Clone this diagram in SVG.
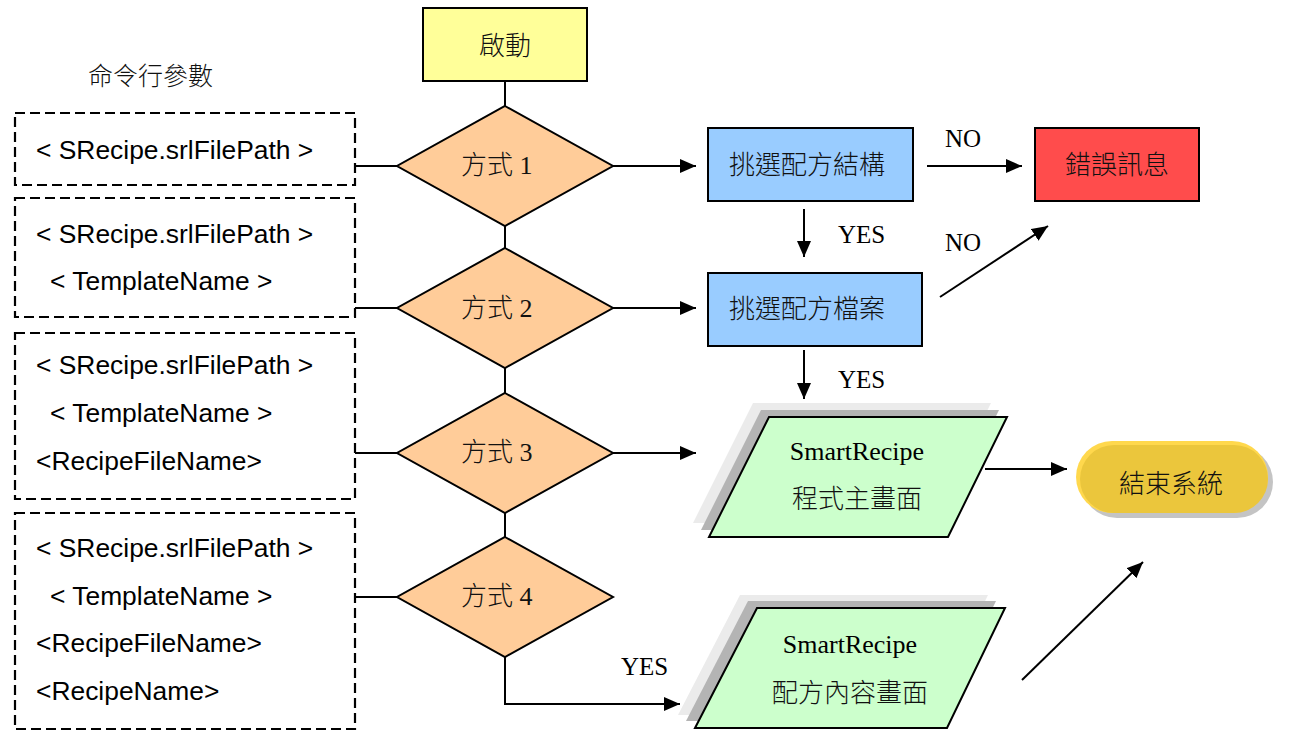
<svg xmlns="http://www.w3.org/2000/svg" width="1291" height="744" viewBox="0 0 1291 744">
<style>
.ln{stroke:#000;stroke-width:2;fill:none}
.dash{stroke:#000;stroke-width:2.2;fill:none;stroke-dasharray:10 5}
.box{stroke:#000;stroke-width:2}
.dia{fill:#FFCC99;stroke:#000;stroke-width:2}
.ar{font-family:"Liberation Sans",Arial,sans-serif;font-size:26.4px;fill:#000}
.cj{font-family:"Liberation Serif","Noto Sans CJK TC",serif;font-size:26px;font-weight:300;fill:#111}
.en{font-family:"Liberation Serif","Noto Sans CJK TC",serif;font-size:25px;fill:#000}
.sh1{fill:#EBEBEB}
.sh2{fill:#B4B4B4}
.para{fill:#CCFFCC;stroke:#000;stroke-width:2}
</style>
<defs>
<marker id="ah" markerUnits="userSpaceOnUse" markerWidth="17" markerHeight="14" refX="16" refY="7" orient="auto">
<path d="M0,0 L16,7 L0,14 z" fill="#000"/>
</marker>
</defs>
<rect width="1291" height="744" fill="#fff"/>

<text class="cj" x="88" y="85" style="font-family:'Noto Sans CJK TC',sans-serif;font-size:25px">命令行參數</text>

<g id="args1">
<rect class="dash" x="15" y="113" width="340" height="72"/>
<text class="ar" x="36" y="159">&lt; SRecipe.srlFilePath &gt;</text>
</g>
<g id="args2">
<rect class="dash" x="15" y="198" width="340" height="119"/>
<text class="ar" x="36" y="243">&lt; SRecipe.srlFilePath &gt;</text>
<text class="ar" x="50" y="290">&lt; TemplateName &gt;</text>
</g>
<g id="args3">
<rect class="dash" x="15" y="333" width="340" height="166"/>
<text class="ar" x="36" y="374">&lt; SRecipe.srlFilePath &gt;</text>
<text class="ar" x="50" y="422">&lt; TemplateName &gt;</text>
<text class="ar" x="36" y="470">&lt;RecipeFileName&gt;</text>
</g>
<g id="args4">
<rect class="dash" x="15" y="513" width="340" height="216"/>
<text class="ar" x="36" y="557">&lt; SRecipe.srlFilePath &gt;</text>
<text class="ar" x="50" y="605">&lt; TemplateName &gt;</text>
<text class="ar" x="36" y="652">&lt;RecipeFileName&gt;</text>
<text class="ar" x="36" y="700">&lt;RecipeName&gt;</text>
</g>

<g id="connectors">
<line class="ln" x1="505" y1="81" x2="505" y2="106"/>
<line class="ln" x1="505" y1="226" x2="505" y2="248"/>
<line class="ln" x1="505" y1="368" x2="505" y2="393"/>
<line class="ln" x1="505" y1="513" x2="505" y2="537"/>
<line class="ln" x1="355" y1="166" x2="397" y2="166"/>
<line class="ln" x1="355" y1="308" x2="397" y2="308"/>
<line class="ln" x1="355" y1="453" x2="397" y2="453"/>
<line class="ln" x1="355" y1="597" x2="397" y2="597"/>
<line class="ln" x1="613" y1="166" x2="696" y2="166" marker-end="url(#ah)"/>
<line class="ln" x1="613" y1="308" x2="696" y2="308" marker-end="url(#ah)"/>
<line class="ln" x1="613" y1="453" x2="696" y2="453" marker-end="url(#ah)"/>
<polyline class="ln" points="505,657 505,704 680,704" marker-end="url(#ah)"/>
<line class="ln" x1="927" y1="166" x2="1022" y2="166" marker-end="url(#ah)"/>
<line class="ln" x1="804" y1="209" x2="804" y2="257" marker-end="url(#ah)"/>
<line class="ln" x1="804" y1="350" x2="804" y2="399" marker-end="url(#ah)"/>
<line class="ln" x1="940" y1="297" x2="1048" y2="226" marker-end="url(#ah)"/>
<line class="ln" x1="985" y1="469" x2="1067" y2="469" marker-end="url(#ah)"/>
<line class="ln" x1="1022" y1="680" x2="1143" y2="562" marker-end="url(#ah)"/>
<text class="en" x="945" y="147">NO</text>
<text class="en" x="945" y="251">NO</text>
<text class="en" x="838" y="243">YES</text>
<text class="en" x="838" y="388">YES</text>
<text class="en" x="621" y="675">YES</text>
</g>

<g id="start">
<rect class="box" x="423" y="8" width="164" height="73" fill="#FFFF99"/>
<text class="cj" x="505" y="55" text-anchor="middle">啟動</text>
</g>

<g id="mode1">
<polygon class="dia" points="505,106 613,166 505,226 397,166"/>
<text class="cj" x="461" y="174">方式 1</text>
</g>
<g id="mode2">
<polygon class="dia" points="505,248 613,308 505,368 397,308"/>
<text class="cj" x="461" y="317">方式 2</text>
</g>
<g id="mode3">
<polygon class="dia" points="505,393 613,453 505,513 397,453"/>
<text class="cj" x="461" y="461">方式 3</text>
</g>
<g id="mode4">
<polygon class="dia" points="505,537 613,597 505,657 397,597"/>
<text class="cj" x="461" y="605">方式 4</text>
</g>

<g id="selectStruct">
<rect class="box" x="708" y="128" width="205" height="73" fill="#99CCFF"/>
<text class="cj" x="729" y="174">挑選配方結構</text>
</g>
<g id="selectFile">
<rect class="box" x="708" y="273" width="214" height="73" fill="#99CCFF"/>
<text class="cj" x="729" y="318">挑選配方檔案</text>
</g>
<g id="error">
<rect class="box" x="1035" y="128" width="164" height="73" fill="#FF4C4C"/>
<text class="cj" x="1117" y="174" text-anchor="middle">錯誤訊息</text>
</g>

<g id="mainScreen">
<polygon class="sh1" points="753,403 991,403 932,523 693,523"/>
<polygon class="sh2" points="761,410 999,410 940,530 701,530"/>
<polygon class="para" points="769,417 1007,417 948,537 709,537"/>
<text class="en" x="857" y="460" text-anchor="middle" style="font-size:26px">SmartRecipe</text>
<text class="cj" x="857" y="508" text-anchor="middle">程式主畫面</text>
</g>

<g id="recipeScreen">
<polygon class="sh1" points="740,595 988,595 930,715 678,715"/>
<polygon class="sh2" points="748,601 996,601 938,721 686,721"/>
<polygon class="para" points="757,608 1005,608 947,728 695,728"/>
<text class="en" x="850" y="653" text-anchor="middle" style="font-size:26px">SmartRecipe</text>
<text class="cj" x="850" y="702" text-anchor="middle">配方內容畫面</text>
</g>

<g id="end">
<rect x="1081" y="446" width="192" height="72" rx="36" fill="#C4C4C4"/>
<rect x="1076" y="441" width="192" height="72" rx="36" fill="#FFD84D"/>
<rect x="1080" y="445" width="188" height="68" rx="34" fill="#EBC63C"/>
<text class="cj" x="1171" y="493" text-anchor="middle">結束系統</text>
</g>
</svg>
